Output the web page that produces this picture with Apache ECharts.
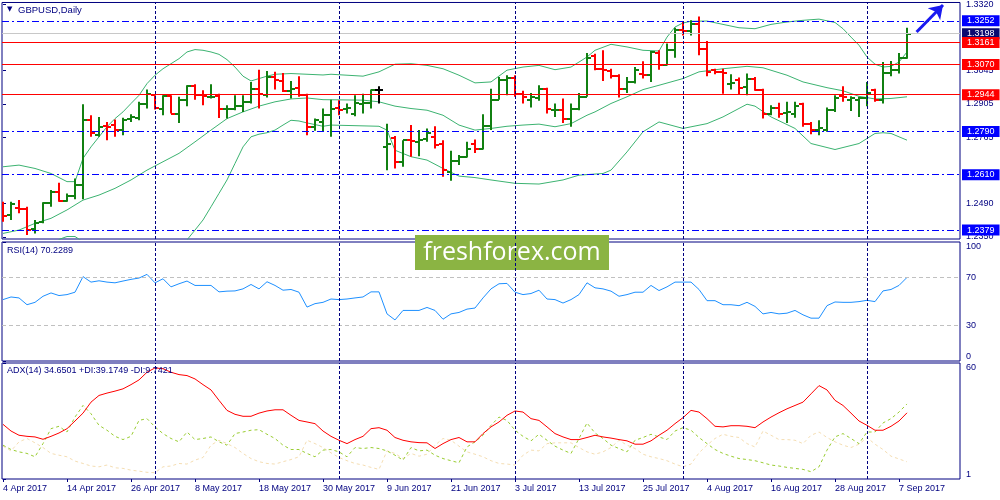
<!DOCTYPE html>
<html><head><meta charset="utf-8">
<script src="https://cdn.jsdelivr.net/npm/echarts@6/dist/echarts.min.js"></script>
<style>html,body{margin:0;padding:0;background:#fff}#c{width:1000px;height:500px}</style>
</head><body><div id="c"></div>
<script>
const tickLabels = ['4 Apr 2017','14 Apr 2017','26 Apr 2017','8 May 2017','18 May 2017','30 May 2017','9 Jun 2017','21 Jun 2017','3 Jul 2017','13 Jul 2017','25 Jul 2017','4 Aug 2017','16 Aug 2017','28 Aug 2017','7 Sep 2017'];

const open = [1.2488,1.2442,1.2470,1.2465,1.2382,1.2414,1.2490,1.2536,1.2500,1.2521,
1.2567,1.2840,1.2775,1.2812,1.2817,1.2798,1.2844,1.2848,1.2904,1.2941,
1.2882,1.2937,1.2865,1.2921,1.2979,1.2941,1.2935,1.2937,1.2882,1.2886,
1.2896,1.2914,1.2969,1.2941,1.3018,1.3001,1.2960,1.2973,1.2941,1.2807,
1.2830,1.2858,1.2889,1.2886,1.2862,1.2904,1.2910,1.2962,1.2726,1.2761,
1.2661,1.2754,1.2747,1.2757,1.2768,1.2740,1.2622,1.2668,1.2685,1.2740,
1.2719,1.2812,1.2923,1.3004,1.3015,1.2946,1.2921,1.2932,1.2969,1.2879,
1.2879,1.2844,1.2882,1.2935,1.3104,1.3052,1.3043,1.3021,1.2969,1.2997,
1.3029,1.3025,1.3118,1.3066,1.3132,1.3212,1.3209,1.3240,1.3136,1.3046,
1.3039,1.2990,1.3004,1.2976,1.3011,1.2965,1.2865,1.2890,1.2868,1.2865,
1.2904,1.2821,1.2798,1.2798,1.2879,1.2937,1.2921,1.2923,1.2928,1.2962,
1.2923,1.3034,1.3046,1.3098];
const high = [1.2497,1.2497,1.2504,1.2476,1.2421,1.2495,1.2546,1.2576,1.2532,1.2594,
1.2904,1.2858,1.2851,1.2830,1.2840,1.2848,1.2862,1.2914,1.2965,1.2941,
1.2941,1.2941,1.2935,1.2983,1.2987,1.2962,1.2987,1.2948,1.2900,1.2941,
1.2941,1.2997,1.3048,1.3043,1.3039,1.3034,1.3001,1.3021,1.2948,1.2844,
1.2886,1.2923,1.2921,1.2907,1.2941,1.2948,1.2965,1.2979,1.2823,1.2771,
1.2754,1.2817,1.2796,1.2803,1.2812,1.2754,1.2710,1.2692,1.2747,1.2757,
1.2862,1.2969,1.3018,1.3025,1.3025,1.2960,1.2951,1.2983,1.2973,1.2907,
1.2928,1.2907,1.2951,1.3118,1.3115,1.3129,1.3052,1.3029,1.3018,1.3059,
1.3083,1.3126,1.3129,1.3157,1.3223,1.3251,1.3254,1.3270,1.3168,1.3052,
1.3052,1.3029,1.3015,1.3032,1.3018,1.2969,1.2900,1.2910,1.2914,1.2914,
1.2910,1.2830,1.2837,1.2890,1.2941,1.2979,1.2937,1.2935,1.2997,1.2969,
1.3080,1.3084,1.3118,1.3223];
const low = [1.2414,1.2421,1.2449,1.2358,1.2365,1.2407,1.2476,1.2497,1.2497,1.2508,
1.2508,1.2768,1.2768,1.2754,1.2768,1.2775,1.2830,1.2837,1.2886,1.2882,
1.2858,1.2865,1.2826,1.2896,1.2923,1.2900,1.2928,1.2847,1.2844,1.2879,
1.2872,1.2907,1.2886,1.2932,1.2965,1.2955,1.2928,1.2935,1.2775,1.2793,
1.2789,1.2768,1.2858,1.2865,1.2854,1.2865,1.2886,1.2907,1.2629,1.2636,
1.2643,1.2685,1.2687,1.2747,1.2719,1.2601,1.2585,1.2650,1.2682,1.2701,
1.2715,1.2796,1.2923,1.2941,1.2935,1.2907,1.2890,1.2918,1.2865,1.2851,
1.2826,1.2810,1.2879,1.2935,1.3046,1.3001,1.3011,1.2932,1.2951,1.2990,
1.3011,1.2997,1.3048,1.3066,1.3098,1.3191,1.3191,1.3108,1.3021,1.3029,
1.2948,1.2965,1.2946,1.2941,1.2960,1.2844,1.2858,1.2848,1.2826,1.2848,
1.2810,1.2779,1.2775,1.2789,1.2872,1.2914,1.2876,1.2851,1.2896,1.2914,
1.2907,1.3021,1.3032,1.3094];
const close = [1.2438,1.2488,1.2465,1.2379,1.2410,1.2490,1.2536,1.2500,1.2521,1.2567,
1.2840,1.2782,1.2810,1.2807,1.2796,1.2840,1.2851,1.2904,1.2946,1.2890,
1.2937,1.2865,1.2921,1.2979,1.2941,1.2937,1.2936,1.2886,1.2886,1.2896,
1.2914,1.2969,1.2946,1.3018,1.3004,1.2960,1.2969,1.2941,1.2807,1.2840,
1.2858,1.2886,1.2879,1.2890,1.2910,1.2910,1.2962,1.2962,1.2740,1.2661,
1.2754,1.2751,1.2754,1.2782,1.2733,1.2629,1.2668,1.2685,1.2719,1.2719,
1.2812,1.2923,1.3004,1.3015,1.2946,1.2935,1.2935,1.2969,1.2886,1.2880,
1.2844,1.2882,1.2935,1.3098,1.3052,1.3046,1.3021,1.2969,1.2997,1.3048,
1.3025,1.3122,1.3066,1.3132,1.3215,1.3209,1.3240,1.3136,1.3039,1.3039,
1.3034,1.2993,1.2973,1.3011,1.2965,1.2865,1.2890,1.2865,1.2872,1.2896,
1.2821,1.2798,1.2803,1.2879,1.2932,1.2935,1.2928,1.2932,1.2951,1.2921,
1.3034,1.3046,1.3098,1.3198];

const bbUpper = [[0,1.2643],[2,1.2650],[4,1.2636],[6,1.2615],[8,1.2581],[9,1.2581],[10,1.2678],[11,1.2726],[12,1.2768],[13,1.2810],[14,1.2844],[15,1.2872],[16,1.2907],[17,1.2941],[18,1.2990],[19,1.3025],[20,1.3052],[21,1.3073],[22,1.3094],[23,1.3122],[24,1.3132],[25,1.3129],[26,1.3122],[27,1.3112],[28,1.3090],[29,1.3059],[30,1.3021],[31,1.3001],[32,1.3011],[33,1.3021],[34,1.3029],[36,1.3032],[38,1.3029],[40,1.3026],[41,1.3029],[43,1.3025],[45,1.3021],[47,1.3039],[49,1.3071],[51,1.3073],[53,1.3066],[55,1.3052],[57,1.3025],[59,1.2993],[61,1.2997],[63,1.3046],[65,1.3059],[67,1.3066],[69,1.3048],[71,1.3059],[73,1.3101],[74,1.3129],[76,1.3154],[78,1.3143],[80,1.3129],[82,1.3126],[83,1.3184],[84,1.3226],[85,1.3243],[86,1.3250],[88,1.3251],[90,1.3237],[92,1.3223],[94,1.3219],[96,1.3237],[98,1.3247],[100,1.3254],[102,1.3259],[104,1.3245],[105,1.3219],[106,1.3184],[107,1.3150],[108,1.3101],[109,1.3071],[110,1.3059],[111,1.3062],[112,1.3080],[113,1.3122]];
const bbMiddle = [[0,1.2365],[2,1.2379],[4,1.2407],[6,1.2428],[8,1.2463],[10,1.2504],[12,1.2525],[14,1.2553],[16,1.2588],[18,1.2629],[20,1.2664],[22,1.2699],[24,1.2747],[26,1.2796],[28,1.2844],[30,1.2872],[32,1.2896],[34,1.2914],[36,1.2926],[38,1.2930],[40,1.2923],[45,1.2921],[47,1.2914],[49,1.2896],[51,1.2886],[53,1.2879],[55,1.2858],[57,1.2817],[59,1.2796],[61,1.2803],[63,1.2812],[65,1.2817],[67,1.2821],[69,1.2810],[71,1.2823],[73,1.2858],[74,1.2872],[76,1.2907],[78,1.2935],[80,1.2965],[82,1.2983],[85,1.3011],[87,1.3039],[90,1.3052],[93,1.3062],[95,1.3056],[98,1.3025],[100,1.2997],[103,1.2973],[105,1.2960],[107,1.2937],[109,1.2926],[111,1.2928],[113,1.2935]];
const bbLower = [[0,1.2087],[2,1.2108],[4,1.2200],[6,1.2290],[7,1.2340],[8,1.2352],[9,1.2352],[10,1.2330],[12,1.2282],[14,1.2262],[16,1.2269],[18,1.2268],[20,1.2276],[22,1.2304],[23,1.2338],[24,1.2379],[25,1.2421],[26,1.2476],[27,1.2532],[28,1.2588],[29,1.2657],[30,1.2726],[31,1.2768],[32,1.2779],[33,1.2785],[34,1.2796],[35,1.2817],[36,1.2837],[37,1.2834],[38,1.2826],[40,1.2812],[41,1.2817],[47,1.2812],[48,1.2796],[49,1.2712],[51,1.2685],[53,1.2671],[55,1.2636],[57,1.2604],[59,1.2598],[61,1.2588],[64,1.2574],[67,1.2571],[70,1.2588],[72,1.2608],[75,1.2615],[76,1.2629],[78,1.2705],[80,1.2789],[82,1.2830],[85,1.2803],[88,1.2823],[90,1.2851],[93,1.2904],[94,1.2896],[96,1.2851],[99,1.2803],[101,1.2740],[104,1.2715],[107,1.2740],[109,1.2782],[110,1.2785],[111,1.2782],[113,1.2754]];

const rsi = [51.6,53.8,53.0,47.3,49.3,54.4,57.2,55.0,55.8,57.8,
70.9,66.3,67.4,66.3,65.7,67.2,68.6,69.7,72.8,65.7,
69.1,62.3,64.9,67.2,63.5,63.5,63.5,58.1,58.7,58.9,
60.6,64.3,60.6,66.6,63.5,59.5,60.1,57.8,45.3,48.2,
49.3,52.1,51.6,52.1,53.0,53.8,58.1,58.1,39.6,34.5,
42.5,42.5,42.5,45.0,42.5,35.1,39.6,40.8,43.6,44.5,
53.0,60.6,64.9,65.2,57.8,55.8,56.7,59.5,52.1,51.6,
48.7,51.6,55.8,65.7,61.5,60.6,58.7,54.4,55.8,57.8,
57.8,63.5,59.2,62.3,66.3,66.3,66.3,60.1,50.7,50.7,
47.3,47.3,46.5,49.3,45.9,39.6,40.8,39.6,40.2,42.5,
38.8,36.0,36.0,46.5,49.6,49.3,49.3,49.9,51.0,49.9,
58.9,60.1,63.5,70.23];
const adx = [28.8,25.4,23.25,22.7,22.4,21.2,22.7,24.4,26.6,30.5,
34.5,40.1,43.5,44.7,45.7,46.85,49.0,51.4,55.3,57.5,
57.1,55.3,54.1,53.6,51.9,49.0,46.3,41.0,35.9,33.9,
32.9,32.9,34.5,35.6,36.2,36.2,33.4,30.8,30.0,29.15,
25.4,22.7,20.7,19.0,21.05,22.7,26.6,27.1,25.8,22.1,
20.7,19.9,19.5,19.4,16.5,19.0,21.05,22.1,19.9,19.9,
24.1,27.5,30.0,33.4,35.6,35.05,31.7,30.8,27.5,24.1,
22.4,21.05,21.05,22.1,23.25,22.4,21.8,21.05,20.4,18.7,
18.7,20.4,23.25,25.8,29.15,32.2,35.9,35.05,31.7,27.8,
27.5,28.1,28.1,27.8,27.1,30.0,32.5,34.7,36.7,38.4,
40.1,44.3,48.5,46.3,41.0,38.4,34.5,30.5,28.3,25.8,
25.8,27.8,30.5,34.65];
const plusDI = [18.2,16.0,14.8,14.0,12.3,19.0,26.6,27.8,24.9,32.5,
38.4,34.2,28.3,25.8,22.7,21.05,22.7,30.8,31.7,27.5,
24.1,21.6,19.9,24.9,21.05,21.6,22.4,19.9,18.2,24.1,
24.9,25.8,26.1,23.75,21.6,18.2,16.0,16.0,14.0,12.3,
15.7,16.0,14.8,12.3,17.0,16.5,17.0,16.5,15.3,13.1,
10.6,17.0,15.3,15.7,13.1,11.4,10.3,9.25,17.3,19.9,
23.25,28.3,32.5,30.8,25.8,22.7,20.4,23.75,20.7,17.7,
15.7,14.0,21.6,29.5,24.4,21.6,18.2,16.5,14.8,20.7,
22.1,23.75,22.4,21.05,25.4,27.1,25.8,22.1,19.0,16.0,
14.0,12.6,11.4,10.9,10.3,9.25,8.1,7.6,6.9,6.4,
5.9,4.7,7.2,15.7,22.4,24.1,21.6,19.0,24.9,24.9,
29.5,31.7,35.05,39.17];
const minusDI = [17.7,15.3,19.9,21.6,19.4,17.0,14.0,13.1,12.3,10.1,
8.9,7.6,7.2,8.1,6.7,6.4,5.5,5.0,4.4,4.2,
7.2,7.6,8.9,8.6,10.6,11.95,18.2,20.7,19.0,17.0,
14.0,11.4,9.8,8.9,8.6,9.8,10.9,12.3,20.7,19.0,
17.0,14.3,11.95,10.3,8.9,8.1,6.9,5.9,15.3,14.0,
11.4,14.0,12.6,13.6,18.2,21.6,20.7,17.7,14.8,13.6,
12.3,10.3,8.9,8.6,8.1,13.1,15.7,15.3,19.0,19.4,
19.4,19.4,17.0,14.8,13.6,14.8,17.0,20.7,18.2,16.5,
13.6,12.3,11.4,10.3,8.6,7.2,8.6,14.3,18.2,21.6,
23.75,22.7,22.1,19.0,17.3,25.4,23.25,21.05,21.05,20.7,
19.0,23.25,24.9,22.1,19.9,18.2,17.0,18.7,22.1,18.7,
16.0,12.6,11.2,9.74];

const blueLevels = [1.3252, 1.2790, 1.2610, 1.2379];
const redLevels = [1.3161, 1.3070, 1.2944];
const bidLevel = [1.3198];
const separators = [19, 42, 64, 85, 108];
const priceTicks = [1.3320, 1.3045, 1.2905, 1.2765, 1.2490, 1.2350];
const rsiTicks = [0, 30, 70, 100];
const rsiLevels = [70, 30];
const adxTicks = [1, 60];
const arrowFrom = [114.2, 1.3205];
const arrowTo = [117.5, 1.3318];

const FONT = 'Liberation Sans';
const NAVY = '#000080';
const UP = '#118011', DOWN = '#FF0000';
const tickIdx = tickLabels.map((_, k) => k * 8);

function sepLine() {
  return {
    silent: true, symbol: 'none', animation: false, label: { show: false }, precision: 4,
    lineStyle: { color: NAVY, type: [3, 2], width: 1 },
    data: separators.map(v => ({ xAxis: v }))
  };
}
function levelLine(values, color, type, bg) {
  return {
    silent: true, symbol: 'none', animation: false, precision: 4,
    lineStyle: { color: color, type: type, width: 1 },
    label: { show: true, position: 'end', distance: 2, color: '#fff', backgroundColor: bg, fontSize: 9, fontFamily: FONT, padding: [1, 5, 1, 5], formatter: p => Number(p.value).toFixed(4) },
    data: values.map(v => ({ yAxis: v }))
  };
}

const chart = echarts.init(document.getElementById('c'));

const option = {
  animation: false,
  backgroundColor: '#fff',
  title: [
    { text: '▼', left: 7, top: 6, padding: 0, textStyle: { fontSize: 7, color: NAVY, fontWeight: 'normal', fontFamily: 'DejaVu Sans' } },
    { text: 'GBPUSD,Daily', left: 18, top: 5, padding: 0, textStyle: { fontSize: 9.5, color: NAVY, fontWeight: 'normal', fontFamily: FONT } },
    { text: 'RSI(14) 70.2289', left: 7, top: 246, padding: 0, textStyle: { fontSize: 9, color: NAVY, fontWeight: 'normal', fontFamily: FONT } },
    { text: 'ADX(14) 34.6501 +DI:39.1749 -DI:9.7421', left: 7, top: 366, padding: 0, textStyle: { fontSize: 9, color: NAVY, fontWeight: 'normal', fontFamily: FONT } }
  ],
  grid: [
    { left: 2, top: 2, width: 958, height: 237, show: true, borderColor: NAVY, borderWidth: 1 },
    { left: 2, top: 242, width: 958, height: 119, show: true, borderColor: NAVY, borderWidth: 1 },
    { left: 2, top: 363, width: 958, height: 116, show: true, borderColor: NAVY, borderWidth: 1 }
  ],
  xAxis: [0, 1, 2].map(g => ({
    gridIndex: g, type: 'value', min: -0.125, max: 119.625,
    splitLine: { show: false }, axisLine: { show: false },
    axisTick: { show: g === 2, customValues: tickIdx, length: 3, lineStyle: { color: NAVY } },
    axisLabel: { show: g === 2, customValues: tickIdx, formatter: v => tickLabels[Math.round(v / 8)] || '', align: 'left', margin: 5, color: NAVY, fontSize: 9, fontFamily: FONT }
  })),
  yAxis: [
    { gridIndex: 0, type: 'value', position: 'right', min: 1.23417, max: 1.33284, splitLine: { show: false }, axisLine: { show: false },
      axisTick: { show: true, customValues: priceTicks, length: 3, lineStyle: { color: NAVY } },
      axisLabel: { customValues: priceTicks, formatter: v => v.toFixed(4), margin: 6, color: NAVY, fontSize: 9, fontFamily: FONT } },
    { gridIndex: 1, type: 'value', position: 'right', min: 0, max: 100, splitLine: { show: false }, axisLine: { show: false },
      axisTick: { show: true, customValues: rsiTicks, length: 3, lineStyle: { color: NAVY } },
      axisLabel: { customValues: rsiTicks, margin: 6, color: NAVY, fontSize: 9, fontFamily: FONT, verticalAlignMinLabel: 'bottom', verticalAlignMaxLabel: 'top' } },
    { gridIndex: 2, type: 'value', position: 'right', min: 1, max: 60, splitLine: { show: false }, axisLine: { show: false },
      axisTick: { show: true, customValues: adxTicks, length: 3, lineStyle: { color: NAVY } },
      axisLabel: { customValues: adxTicks, margin: 6, color: NAVY, fontSize: 9, fontFamily: FONT, verticalAlignMinLabel: 'bottom', verticalAlignMaxLabel: 'top' } }
  ],
  graphic: [{
    type: 'group', left: 415, top: 235, z: 100,
    children: [
      { type: 'rect', shape: { x: 0, y: 0, width: 194, height: 35 }, style: { fill: '#8BB443' } },
      { type: 'text', x: 97, y: 18, style: { text: 'freshforex.com', fill: '#fff', fontSize: 25, fontFamily: 'Open Sans', align: 'center', verticalAlign: 'middle' } }
    ]
  }],
  series: [
    { type: 'line', name: 'bbLower', xAxisIndex: 0, yAxisIndex: 0, data: bbLower, symbol: 'none', clip: true, lineStyle: { color: '#3CB371', width: 1 }, z: 2,
      markLine: levelLine(bidLevel, '#C8C8C8', 'solid', '#0A0A70') },
    { type: 'line', name: 'bbUpper', xAxisIndex: 0, yAxisIndex: 0, data: bbUpper, symbol: 'none', clip: true, lineStyle: { color: '#3CB371', width: 1 }, z: 2,
      markLine: levelLine(blueLevels, '#0000FF', [7, 3, 2, 3], '#0000FF') },
    { type: 'line', name: 'bbMiddle', xAxisIndex: 0, yAxisIndex: 0, data: bbMiddle, symbol: 'none', clip: true, lineStyle: { color: '#3CB371', width: 1 }, z: 2,
      markLine: levelLine(redLevels, '#FF0000', 'solid', '#FF0000') },
    { type: 'custom', name: 'GBPUSD', xAxisIndex: 0, yAxisIndex: 0, clip: true, z: 3,
      data: open.map((o, i) => [i, o, high[i], low[i], close[i]]),
      encode: { x: 0, y: [1, 2, 3, 4] },
      markLine: sepLine(),
      renderItem: function (params, api) {
        const i = api.value(0), o = api.value(1), h = api.value(2), l = api.value(3), c = api.value(4);
        const pH = api.coord([i, h]), pL = api.coord([i, l]), pO = api.coord([i, o]), pC = api.coord([i, c]);
        const x = Math.round(pH[0]);
        const col = c > o ? UP : (c < o ? DOWN : '#000000');
        const yo = Math.round(pO[1]), yc = Math.round(pC[1]);
        return { type: 'group', children: [
          { type: 'line', shape: { x1: x, y1: pH[1], x2: x, y2: pL[1] }, style: { stroke: col, lineWidth: 2 } },
          { type: 'line', shape: { x1: x - 4, y1: yo, x2: x, y2: yo }, style: { stroke: col, lineWidth: 2 } },
          { type: 'line', shape: { x1: x, y1: yc, x2: x + 4, y2: yc }, style: { stroke: col, lineWidth: 2 } }
        ] };
      } },
    { type: 'lines', name: 'arrow', coordinateSystem: 'cartesian2d', xAxisIndex: 0, yAxisIndex: 0, z: 5,
      symbol: ['none', 'arrow'], symbolSize: 13,
      lineStyle: { color: '#1A1AF0', width: 3, opacity: 1 },
      data: [{ coords: [arrowFrom, arrowTo] }] },
    { type: 'line', name: 'RSI', xAxisIndex: 1, yAxisIndex: 1, data: rsi.map((v, i) => [i, v]), symbol: 'none', lineStyle: { color: '#1E90FF', width: 1 },
      markLine: {
        silent: true, symbol: 'none', animation: false, label: { show: false },
        lineStyle: { color: '#C0C0C0', type: [4, 3], width: 1 },
        data: rsiLevels.map(v => ({ yAxis: v }))
      } },
    { type: 'line', name: 'RSIsep', xAxisIndex: 1, yAxisIndex: 1, data: rsi.map((v, i) => [i, v]), symbol: 'none', lineStyle: { opacity: 0 }, z: 1,
      markLine: sepLine() },
    { type: 'line', name: '-DI', xAxisIndex: 2, yAxisIndex: 2, data: minusDI.map((v, i) => [i, v]), symbol: 'none', lineStyle: { color: '#F5DEB3', width: 1, type: [3, 3] },
      markLine: sepLine() },
    { type: 'line', name: '+DI', xAxisIndex: 2, yAxisIndex: 2, data: plusDI.map((v, i) => [i, v]), symbol: 'none', lineStyle: { color: '#9ACD32', width: 1, type: [3, 3] } },
    { type: 'line', name: 'ADX', xAxisIndex: 2, yAxisIndex: 2, data: adx.map((v, i) => [i, v]), symbol: 'none', lineStyle: { color: '#FF0000', width: 1 } }
  ]
};
chart.setOption(option);
</script>
</body></html>
